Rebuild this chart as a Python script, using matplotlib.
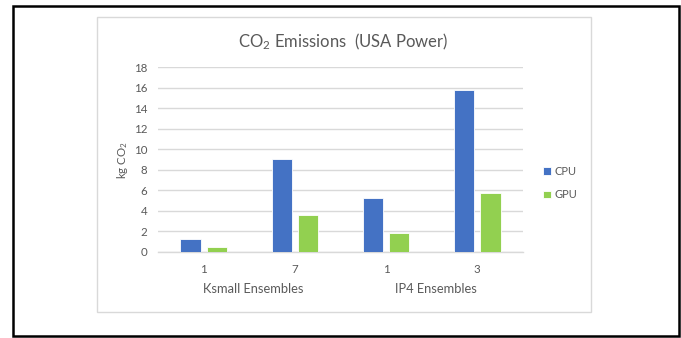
import matplotlib
matplotlib.use("Agg")
import matplotlib.pyplot as plt
from matplotlib.patches import Rectangle
import numpy as np

plt.rcParams['font.family'] = ['Lato', 'DejaVu Sans']
plt.rcParams['mathtext.fontset'] = 'custom'
plt.rcParams['mathtext.rm'] = 'Lato'
plt.rcParams['mathtext.it'] = 'Lato:italic'

# Data
categories = ["1", "7", "1", "3"]
groups = ["Ksmall Ensembles", "IP4 Ensembles"]
cpu = [1.25, 9.1, 5.25, 15.8]
gpu = [0.45, 3.55, 1.8, 5.75]
series_names = ["CPU", "GPU"]
yticks = [0, 2, 4, 6, 8, 10, 12, 14, 16, 18]

W, H = 681, 338
fig = plt.figure(figsize=(W / 100, H / 100), dpi=100)
fig.patch.set_facecolor('white')

def fx(px):
    return px / W

def fy(py):
    return 1 - py / H

# outer black frame
fig.patches.append(Rectangle((fx(13), fy(336)), fx(679) - fx(13), fy(6) - fy(336),
                             transform=fig.transFigure, fill=False,
                             edgecolor='black', linewidth=1.8, zorder=0))
# light gray chart border
fig.patches.append(Rectangle((fx(97), fy(312)), fx(591) - fx(97), fy(17) - fy(312),
                             transform=fig.transFigure, fill=False,
                             edgecolor='#D9D9D9', linewidth=1.0, zorder=0))

ax = fig.add_axes([fx(158.3), fy(251.7), fx(522.7) - fx(158.3), fy(67.4) - fy(251.7)])
ax.set_facecolor('none')

x = np.arange(len(categories))
w = 0.227
off = 0.143
text_color = '#595959'
b1 = ax.bar(x - off, cpu, w, color='#4472C4', edgecolor='white', linewidth=0.6,
            label=series_names[0], zorder=3)
b2 = ax.bar(x + off, gpu, w, color='#92D050', edgecolor='white', linewidth=0.6,
            label=series_names[1], zorder=3)

ax.set_xlim(-0.5, 3.5)
ax.set_ylim(0, 18)
ax.set_yticks(yticks)
ax.set_yticklabels([str(t) for t in yticks])
ax.set_xticks(x)
ax.set_xticklabels(categories)
ax.grid(axis='y', color='#D9D9D9', linewidth=1.0, zorder=0)
for s in ['top', 'right', 'left']:
    ax.spines[s].set_visible(False)
ax.spines['bottom'].set_color('#D9D9D9')
ax.spines['bottom'].set_linewidth(1.0)
ax.tick_params(axis='both', length=0, labelsize=8.3, labelcolor=text_color)
ax.tick_params(axis='y', pad=8)
ax.tick_params(axis='x', pad=8.5)

for i, g in enumerate(groups):
    ax.annotate(g, xy=(2 * i + 0.5, 0), xycoords=('data', 'axes fraction'),
                xytext=(3, -26.5), textcoords='offset points',
                ha='center', va='center', fontsize=9.3, color=text_color)

fig.text(fx(123), fy(160), r'kg CO$_{\mathregular{2}}$', rotation=90,
         ha='center', va='center', fontsize=8.3, color=text_color)
fig.text(fx(343), fy(41.5), r'CO$_{\mathregular{2}}$ Emissions  (USA Power)',
         ha='center', va='center', fontsize=12, color=text_color)

ax.legend(handles=[b1, b2], loc='center left', bbox_to_anchor=(fx(543), fy(183)),
          bbox_transform=fig.transFigure, frameon=False, fontsize=8,
          handlelength=0.7, handleheight=0.7, handletextpad=0.3,
          labelspacing=1.15, borderpad=0, borderaxespad=0, labelcolor=text_color)

fig.savefig('out.png', dpi=100, facecolor='white')
